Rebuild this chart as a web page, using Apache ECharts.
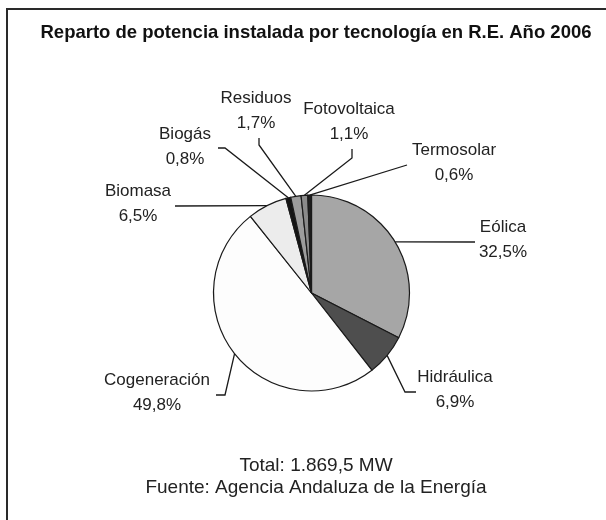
<!DOCTYPE html>
<html lang="es">
<head>
<meta charset="UTF-8">
<title>Reparto de potencia instalada</title>
<script src="https://cdn.jsdelivr.net/npm/echarts@6/dist/echarts.min.js"></script>
<style>
    html, body { margin: 0; width: 100%; height: 100%; background: #fff; }
    #chart { width: 606px; height: 520px; }
</style>
</head>
<body>
<div id="chart"></div>
<script>
    // datos
    var categories = ['Eólica', 'Hidráulica', 'Cogeneración', 'Biomasa', 'Biogás', 'Residuos', 'Fotovoltaica', 'Termosolar'];
    var shares = [32.5, 6.9, 49.8, 6.5, 0.8, 1.7, 1.1, 0.6];
    var titleText = 'Reparto de potencia instalada por tecnología en R.E. Año 2006';
    var footerLines = ['Total: 1.869,5 MW', 'Fuente: Agencia Andaluza de la Energía'];

    // estilos
    var sliceColors = ['#a6a6a6', '#4e4e4e', '#fdfdfd', '#ececec', '#141414', '#9c9c9c', '#8a8a8a', '#1e1e1e'];
    // posición de cada etiqueta (centro) y del codo / final de su línea
    var labelCenters = [[503, 240], [455, 390], [157, 393], [138, 204], [185, 147], [256, 111], [349, 122], [454, 163]];
    var lineBends = [null, [405, 392], [225, 395], null, [225, 148], [259, 145], [352, 158], null];
    var lineEnds = [[475, 242], [416, 392], [216, 395], [175, 206], [218, 148], [259, 138], [352, 149], [407, 165]];

    function fmt(v) {
        return v.toFixed(1).replace('.', ',') + '%';
    }

    var pieData = categories.map(function (name, i) {
        return { name: name, value: shares[i], itemStyle: { color: sliceColors[i] } };
    });

    var chart = echarts.init(document.getElementById('chart'), null, { renderer: 'canvas' });
    chart.setOption({
        backgroundColor: '#ffffff',
        animation: false,
        title: [
            {
                text: titleText,
                left: 311, top: 18, textAlign: 'center',
                textStyle: { fontFamily: 'Liberation Sans, Arial, sans-serif', fontSize: 18.5, fontWeight: 'bold', color: '#111' }
            },
            {
                text: footerLines.join('\n'),
                left: 311, top: 450, textAlign: 'center',
                textStyle: { fontFamily: 'Liberation Sans, Arial, sans-serif', fontSize: 19, fontWeight: 'normal', color: '#222', lineHeight: 22 }
            }
        ],
        graphic: [{
            type: 'rect',
            shape: { x: 7, y: 9, width: 640, height: 560 },
            style: { fill: null, stroke: '#2a2a2a', lineWidth: 2 }
        }],
        series: [{
            type: 'pie',
            center: [311.5, 293],
            radius: 98,
            startAngle: 90,
            clockwise: true,
            avoidLabelOverlap: false,
            itemStyle: { borderColor: '#1a1a1a', borderWidth: 1.2 },
            emphasis: { disabled: true },
            label: {
                show: true,
                position: 'outside',
                formatter: function (p) { return p.name + '\n' + fmt(p.value); },
                fontFamily: 'Liberation Sans, Arial, sans-serif',
                fontSize: 17,
                lineHeight: 25,
                color: '#222',
                align: 'center'
            },
            labelLine: { show: true, lineStyle: { color: '#1a1a1a', width: 1.3 } },
            labelLayout: function (params) {
                var i = params.dataIndex;
                var edge = params.labelLinePoints ? params.labelLinePoints[0] : lineEnds[i];
                var pts = [edge];
                if (lineBends[i]) pts.push(lineBends[i]);
                else pts.push(lineEnds[i]);
                pts.push(lineEnds[i]);
                return {
                    x: labelCenters[i][0],
                    y: labelCenters[i][1],
                    align: 'center',
                    verticalAlign: 'middle',
                    labelLinePoints: pts
                };
            },
            data: pieData
        }]
    });
</script>
</body>
</html>
